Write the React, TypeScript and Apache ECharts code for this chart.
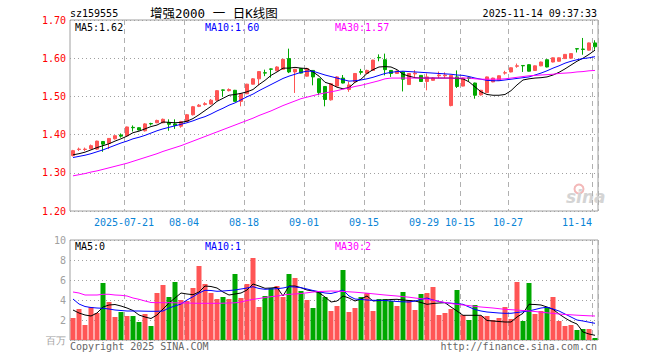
import React, { useEffect, useRef } from 'react';
import * as echarts from 'echarts';

const dates = [
  '2025-07-08','2025-07-09','2025-07-10','2025-07-11','2025-07-14','2025-07-15','2025-07-16','2025-07-17','2025-07-18','2025-07-21',
  '2025-07-22','2025-07-23','2025-07-24','2025-07-25','2025-07-28','2025-07-29','2025-07-30','2025-07-31','2025-08-01','2025-08-04',
  '2025-08-05','2025-08-06','2025-08-07','2025-08-08','2025-08-11','2025-08-12','2025-08-13','2025-08-14','2025-08-15','2025-08-18',
  '2025-08-19','2025-08-20','2025-08-21','2025-08-22','2025-08-25','2025-08-26','2025-08-27','2025-08-28','2025-08-29','2025-09-01',
  '2025-09-02','2025-09-03','2025-09-04','2025-09-05','2025-09-08','2025-09-09','2025-09-10','2025-09-11','2025-09-12','2025-09-15',
  '2025-09-16','2025-09-17','2025-09-18','2025-09-19','2025-09-22','2025-09-23','2025-09-24','2025-09-25','2025-09-26','2025-09-29',
  '2025-09-30','2025-10-09','2025-10-10','2025-10-13','2025-10-14','2025-10-15','2025-10-16','2025-10-17','2025-10-20','2025-10-21',
  '2025-10-22','2025-10-23','2025-10-24','2025-10-27','2025-10-28','2025-10-29','2025-10-30','2025-10-31','2025-11-03','2025-11-04',
  '2025-11-05','2025-11-06','2025-11-07','2025-11-10','2025-11-11','2025-11-12','2025-11-13','2025-11-14'
];

const opens = [
  1.345,1.361,1.361,1.363,1.362,1.382,1.377,1.389,1.399,1.397,
  1.419,1.418,1.410,1.429,1.431,1.431,1.432,1.428,1.422,1.434,
  1.452,1.474,1.479,1.480,1.490,1.517,1.515,1.516,1.487,1.507,
  1.532,1.546,1.562,1.572,1.567,1.571,1.599,1.564,1.573,1.553,
  1.568,1.546,1.526,1.491,1.527,1.548,1.518,1.538,1.565,1.560,
  1.568,1.602,1.596,1.568,1.560,1.564,1.531,1.559,1.555,1.539,
  1.542,1.554,1.554,1.476,1.551,1.527,1.549,1.535,1.504,1.510,
  1.538,1.542,1.561,1.564,1.579,1.581,1.583,1.568,1.580,1.596,
  1.590,1.592,1.599,1.600,1.625,1.624,1.621,1.640
];
const closes = [
  1.358,1.362,1.362,1.371,1.383,1.375,1.390,1.397,1.396,1.420,
  1.418,1.412,1.428,1.428,1.437,1.440,1.427,1.424,1.434,1.452,
  1.473,1.477,1.481,1.490,1.515,1.516,1.518,1.487,1.507,1.532,
  1.546,1.565,1.561,1.571,1.577,1.597,1.564,1.571,1.561,1.573,
  1.551,1.510,1.492,1.533,1.551,1.535,1.530,1.560,1.563,1.568,
  1.595,1.601,1.570,1.560,1.566,1.545,1.560,1.561,1.539,1.551,
  1.548,1.556,1.556,1.555,1.526,1.548,1.547,1.503,1.516,1.551,
  1.548,1.554,1.562,1.575,1.580,1.580,1.566,1.580,1.590,1.577,
  1.601,1.601,1.610,1.612,1.624,1.623,1.640,1.630
];
const lows = [
  1.343,1.357,1.357,1.362,1.360,1.355,1.362,1.387,1.392,1.396,
  1.408,1.411,1.408,1.424,1.430,1.430,1.410,1.415,1.418,1.433,
  1.450,1.472,1.476,1.479,1.489,1.499,1.513,1.486,1.474,1.506,
  1.531,1.529,1.553,1.549,1.566,1.570,1.561,1.509,1.560,1.552,
  1.529,1.503,1.474,1.489,1.526,1.534,1.512,1.537,1.557,1.559,
  1.567,1.592,1.555,1.551,1.559,1.513,1.530,1.550,1.538,1.516,
  1.541,1.548,1.548,1.474,1.522,1.526,1.540,1.494,1.502,1.509,
  1.537,1.541,1.557,1.563,1.575,1.564,1.565,1.567,1.579,1.576,
  1.589,1.591,1.598,1.599,1.615,1.609,1.620,1.622
];
const highs = [
  1.360,1.366,1.366,1.374,1.384,1.383,1.391,1.398,1.403,1.421,
  1.424,1.419,1.430,1.431,1.439,1.442,1.440,1.440,1.436,1.454,
  1.475,1.480,1.485,1.493,1.516,1.518,1.521,1.517,1.508,1.533,
  1.548,1.566,1.570,1.573,1.579,1.598,1.625,1.572,1.574,1.575,
  1.569,1.547,1.527,1.534,1.553,1.556,1.539,1.561,1.572,1.570,
  1.596,1.610,1.612,1.569,1.568,1.566,1.561,1.569,1.556,1.560,
  1.550,1.565,1.563,1.556,1.568,1.549,1.553,1.536,1.517,1.552,
  1.549,1.555,1.567,1.576,1.586,1.581,1.584,1.581,1.591,1.597,
  1.602,1.602,1.611,1.613,1.625,1.653,1.641,1.647
];

const ma5 = [
  1.347,1.350,1.354,1.360,1.366,1.371,1.376,1.383,1.389,1.396,
  1.405,1.409,1.415,1.421,1.425,1.433,1.432,1.431,1.432,1.435,
  1.442,1.452,1.463,1.474,1.487,1.495,1.503,1.505,1.508,1.512,
  1.518,1.531,1.542,1.555,1.564,1.574,1.574,1.576,1.574,1.573,
  1.564,1.553,1.537,1.532,1.524,1.520,1.523,1.537,1.545,1.560,
  1.570,1.577,1.578,1.577,1.570,1.558,1.553,1.549,1.548,1.548,
  1.548,1.548,1.548,1.548,1.547,1.546,1.538,1.525,1.512,1.505,
  1.503,1.503,1.505,1.515,1.530,1.543,1.546,1.548,1.549,1.551,
  1.556,1.563,1.572,1.582,1.592,1.600,1.610,1.621
];
const ma10 = [
  1.340,1.343,1.346,1.350,1.355,1.360,1.366,1.372,1.378,1.383,
  1.389,1.393,1.398,1.404,1.410,1.415,1.419,1.423,1.427,1.431,
  1.436,1.442,1.447,1.454,1.462,1.469,1.477,1.483,1.491,1.499,
  1.506,1.515,1.523,1.531,1.539,1.547,1.553,1.558,1.563,1.566,
  1.566,1.561,1.556,1.552,1.548,1.544,1.540,1.541,1.543,1.546,
  1.550,1.555,1.560,1.563,1.565,1.566,1.565,1.564,1.563,1.562,
  1.561,1.560,1.559,1.558,1.556,1.555,1.552,1.548,1.545,1.542,
  1.541,1.541,1.543,1.545,1.547,1.549,1.551,1.556,1.561,1.567,
  1.574,1.580,1.587,1.592,1.596,1.599,1.601,1.604
];
const ma30 = [
  1.292,1.295,1.298,1.302,1.305,1.309,1.313,1.317,1.321,1.325,
  1.330,1.335,1.340,1.345,1.350,1.356,1.361,1.366,1.371,1.377,
  1.383,1.389,1.395,1.401,1.407,1.413,1.419,1.425,1.431,1.437,
  1.443,1.450,1.456,1.462,1.469,1.476,1.482,1.488,1.494,1.498,
  1.502,1.506,1.509,1.512,1.515,1.519,1.522,1.526,1.529,1.533,
  1.537,1.541,1.546,1.548,1.548,1.548,1.548,1.548,1.548,1.548,
  1.548,1.548,1.548,1.548,1.548,1.548,1.548,1.546,1.545,1.545,
  1.545,1.545,1.546,1.548,1.550,1.552,1.554,1.555,1.556,1.557,
  1.558,1.560,1.561,1.562,1.564,1.565,1.567,1.568
];

const volumes = [
  2.2,3.1,1.5,3.3,2.7,5.7,3.8,2.3,2.8,2.4,
  2.4,1.8,2.6,1.4,4.7,5.5,4.3,5.8,4.0,3.9,
  5.2,7.4,5.6,4.7,4.1,4.3,4.1,6.6,4.2,5.6,
  8.2,3.3,4.4,5.2,5.4,4.3,6.6,6.2,4.9,4.0,
  3.2,4.9,4.3,2.9,3.4,7.0,2.8,3.2,4.3,4.7,
  2.9,4.1,4.1,3.9,3.4,4.8,4.0,3.0,4.6,4.7,
  5.3,2.5,2.7,3.1,5.0,2.5,2.0,3.5,2.4,2.4,
  2.0,2.2,3.3,2.1,5.8,1.9,5.7,2.6,2.9,3.3,
  4.3,1.9,1.4,1.5,1.0,1.1,1.1,0.2
];
const vma5 = [
  3.0,2.7,2.5,2.4,2.7,3.3,3.5,3.55,3.4,3.2,
  2.95,2.5,2.3,2.15,2.5,3.1,3.7,4.2,4.7,4.6,
  4.53,4.8,5.4,5.35,5.2,4.8,4.5,4.6,4.7,5.0,
  5.6,5.4,5.17,5.2,5.27,4.4,5.4,5.4,5.23,5.0,
  4.9,4.73,4.3,3.8,3.9,4.4,4.2,3.9,4.1,4.4,
  3.9,3.95,4.0,4.05,4.07,4.0,3.95,3.9,3.75,3.57,
  3.65,3.7,3.73,3.3,2.9,2.47,2.47,2.47,2.47,1.95,
  1.9,1.85,1.8,1.8,2.3,2.67,3.57,3.55,3.5,3.3,
  3.07,2.6,2.2,1.85,1.6,0.8,0.6,0.47
];
const vma10 = [
  4.1,3.6,3.35,3.25,3.2,3.17,3.1,3.0,2.95,2.9,
  2.9,2.9,2.88,2.87,2.87,2.9,3.2,3.4,3.6,4.0,
  4.33,4.7,4.97,4.95,4.87,4.9,4.95,5.0,5.1,5.2,
  5.33,5.15,5.07,5.1,5.13,5.2,5.33,5.3,5.23,5.1,
  4.95,4.83,4.7,4.65,4.8,5.0,4.4,4.1,4.05,4.0,
  3.97,3.97,3.95,3.9,3.85,3.82,3.8,3.9,4.05,4.2,
  4.0,3.85,3.73,3.68,3.62,3.57,3.3,3.05,2.9,2.8,
  2.75,2.7,2.67,2.67,2.75,2.82,2.9,3.05,3.2,3.27,
  3.1,2.9,2.6,2.3,2.0,1.9,1.78,1.67
];
const vma30 = [
  4.8,4.7,4.5,4.5,4.5,4.57,4.57,4.5,4.47,4.4,
  4.2,4.07,3.9,3.75,3.73,3.73,3.73,3.72,3.7,3.7,
  3.68,3.67,3.67,3.67,3.67,3.68,3.7,3.72,3.8,3.95,
  4.07,4.15,4.25,4.33,4.4,4.5,4.57,4.6,4.65,4.72,
  4.8,4.85,4.87,4.9,4.88,4.86,4.82,4.78,4.73,4.68,
  4.62,4.56,4.5,4.45,4.4,4.34,4.28,4.2,4.13,4.07,
  3.98,3.86,3.75,3.65,3.57,3.5,3.44,3.36,3.3,3.25,
  3.2,3.13,3.07,3.03,2.99,2.95,2.9,2.85,2.78,2.72,
  2.66,2.6,2.55,2.52,2.48,2.45,2.42,2.4
];

const tickDates = ['2025-07-21','2025-08-04','2025-08-18','2025-09-01','2025-09-15','2025-09-29','2025-10-15','2025-10-27','2025-11-14'];
const tickLabels = ['2025-07-21','08-04','08-18','09-01','09-15','09-29','10-15','10-27','11-14'];
const priceTicks = [1.2, 1.7, 0.1];
const volTicks = [0, 10, 2];

const RED = '#ff5555';
const GREEN = '#00a800';
const BLUE = '#0000ff';
const MAGENTA = '#ff00ff';
const MONO = '"DejaVu Sans Mono", "Liberation Mono", monospace';
const TITLE_FONT = '"DejaVu Sans Mono", "Noto Sans CJK SC", sans-serif';

export default function App() {
  const ref = useRef<HTMLDivElement>(null);
  useEffect(() => {
    if (!ref.current) return;
    const chart = echarts.init(ref.current, undefined, { renderer: 'svg' });
    const isTick = (_i: number, v: string) => tickDates.indexOf(v) >= 0;
    const labelFmt = (v: string) => {
      const k = tickDates.indexOf(v);
      if (k < 0) return '';
      return k === tickDates.length - 1 ? `{e|${tickLabels[k]}}` : `{t|${tickLabels[k]}}`;
    };
    const last = dates.length - 1;
    const txt = (text: string, x: number, y: number, fill: string, align = 'left', font = MONO, size = 10) => ({
      type: 'text', x, y, silent: true,
      style: { text, fill, fontFamily: font, fontSize: size, align, verticalAlign: 'middle' }
    });
    const option: any = {
      animation: false,
      backgroundColor: '#ffffff',
      grid: [
        { left: 70, top: 20, width: 528, height: 191, show: true, borderColor: '#a0a0a0', borderWidth: 1, backgroundColor: 'transparent' },
        { left: 70, top: 240, width: 528, height: 100, show: true, borderColor: '#a0a0a0', borderWidth: 1, backgroundColor: 'transparent' }
      ],
      xAxis: [
        {
          type: 'category', gridIndex: 0, data: dates, boundaryGap: true,
          axisLine: { show: false }, axisTick: { show: false },
          axisLabel: {
            interval: isTick, formatter: labelFmt, color: '#0a84d6', fontFamily: MONO, fontSize: 10, margin: 6,
            alignMaxLabel: 'right',
            rich: { t: { padding: [0, 6, 0, 0], color: '#0a84d6', fontFamily: MONO, fontSize: 10 }, e: { padding: [0, 3, 0, 0], color: '#0a84d6', fontFamily: MONO, fontSize: 10 } }
          },
          splitLine: { show: true, interval: isTick, lineStyle: { type: [5, 4], color: '#b0b0b0', width: 1 } }
        },
        {
          type: 'category', gridIndex: 1, data: dates, boundaryGap: true,
          axisLine: { show: false }, axisTick: { show: false }, axisLabel: { show: false },
          splitLine: { show: true, interval: isTick, lineStyle: { type: [5, 4], color: '#b0b0b0', width: 1 } }
        }
      ],
      yAxis: [
        {
          type: 'value', gridIndex: 0, min: priceTicks[0], max: priceTicks[1], interval: priceTicks[2],
          axisLine: { show: false }, axisTick: { show: false },
          axisLabel: { color: '#ff0000', fontFamily: MONO, fontSize: 10, margin: 4, formatter: (v: number) => v.toFixed(2) },
          splitLine: { show: true, lineStyle: { type: [1, 3], color: '#a0a0a0' } }
        },
        {
          type: 'value', gridIndex: 1, min: volTicks[0], max: volTicks[1], interval: volTicks[2],
          axisLine: { show: false }, axisTick: { show: false },
          axisLabel: { color: '#a0a0a0', fontFamily: MONO, fontSize: 10, margin: 4, formatter: (v: number) => (v === 0 ? '百万' : String(v)) },
          splitLine: { show: true, lineStyle: { type: [1, 3], color: '#a0a0a0' } }
        }
      ],
      series: [
        {
          type: 'candlestick', xAxisIndex: 0, yAxisIndex: 0, barWidth: 4,
          data: dates.map((_, i) => [opens[i], closes[i], lows[i], highs[i]]),
          itemStyle: { color: RED, color0: GREEN, borderColor: RED, borderColor0: GREEN, borderWidth: 1 }
        },
        { type: 'line', xAxisIndex: 0, yAxisIndex: 0, data: ma5, showSymbol: false, lineStyle: { color: '#000000', width: 1 } },
        { type: 'line', xAxisIndex: 0, yAxisIndex: 0, data: ma10, showSymbol: false, lineStyle: { color: BLUE, width: 1 } },
        { type: 'line', xAxisIndex: 0, yAxisIndex: 0, data: ma30, showSymbol: false, lineStyle: { color: MAGENTA, width: 1 } },
        {
          type: 'bar', xAxisIndex: 1, yAxisIndex: 1, barWidth: 5,
          data: volumes.map((v, i) => ({ value: v, itemStyle: { color: closes[i] >= opens[i] ? RED : GREEN } }))
        },
        { type: 'line', xAxisIndex: 1, yAxisIndex: 1, data: vma5, showSymbol: false, lineStyle: { color: '#000000', width: 1 } },
        { type: 'line', xAxisIndex: 1, yAxisIndex: 1, data: vma10, showSymbol: false, lineStyle: { color: BLUE, width: 1 } },
        { type: 'line', xAxisIndex: 1, yAxisIndex: 1, data: vma30, showSymbol: false, lineStyle: { color: MAGENTA, width: 1 } }
      ],
      graphic: [
        txt('sz159555', 70, 13, '#000000'),
        txt('增强2000 一 日K线图', 150, 13, '#000000', 'left', TITLE_FONT, 12.5),
        txt('2025-11-14 09:37:33', 597, 13, '#000000', 'right'),
        txt('MA5:' + ma5[last].toFixed(2), 75, 27, '#000000'),
        txt('MA10:' + ma10[last].toFixed(2), 205, 27, BLUE),
        txt('MA30:' + ma30[last].toFixed(2), 335, 27, MAGENTA),
        txt('MA5:' + Math.floor(vma5[last]), 75, 246, '#000000'),
        txt('MA10:' + Math.floor(vma10[last]), 205, 246, BLUE),
        txt('MA30:' + Math.floor(vma30[last]), 335, 246, MAGENTA),
        txt('Copyright 2025 SINA.COM', 70, 346, '#666666'),
        txt('http://finance.sina.com.cn', 597, 346, '#666666', 'right'),
        { type: 'circle', shape: { cx: 579, cy: 189, r: 4.5 }, silent: true, style: { fill: 'none', stroke: '#f3b8b8', lineWidth: 2 } },
        {
          type: 'text', x: 566, y: 197, silent: true,
          style: { text: 'sina', fill: '#d4d4d4', fontFamily: '"DejaVu Sans", sans-serif', fontSize: 17, fontWeight: 'bold', fontStyle: 'italic', align: 'left', verticalAlign: 'middle' }
        }
      ]
    };
    chart.setOption(option);
    return () => chart.dispose();
  }, []);
  return <div ref={ref} style={{ position: 'fixed', left: 0, top: 0, width: 660, height: 360, background: '#fff' }} />;
}
